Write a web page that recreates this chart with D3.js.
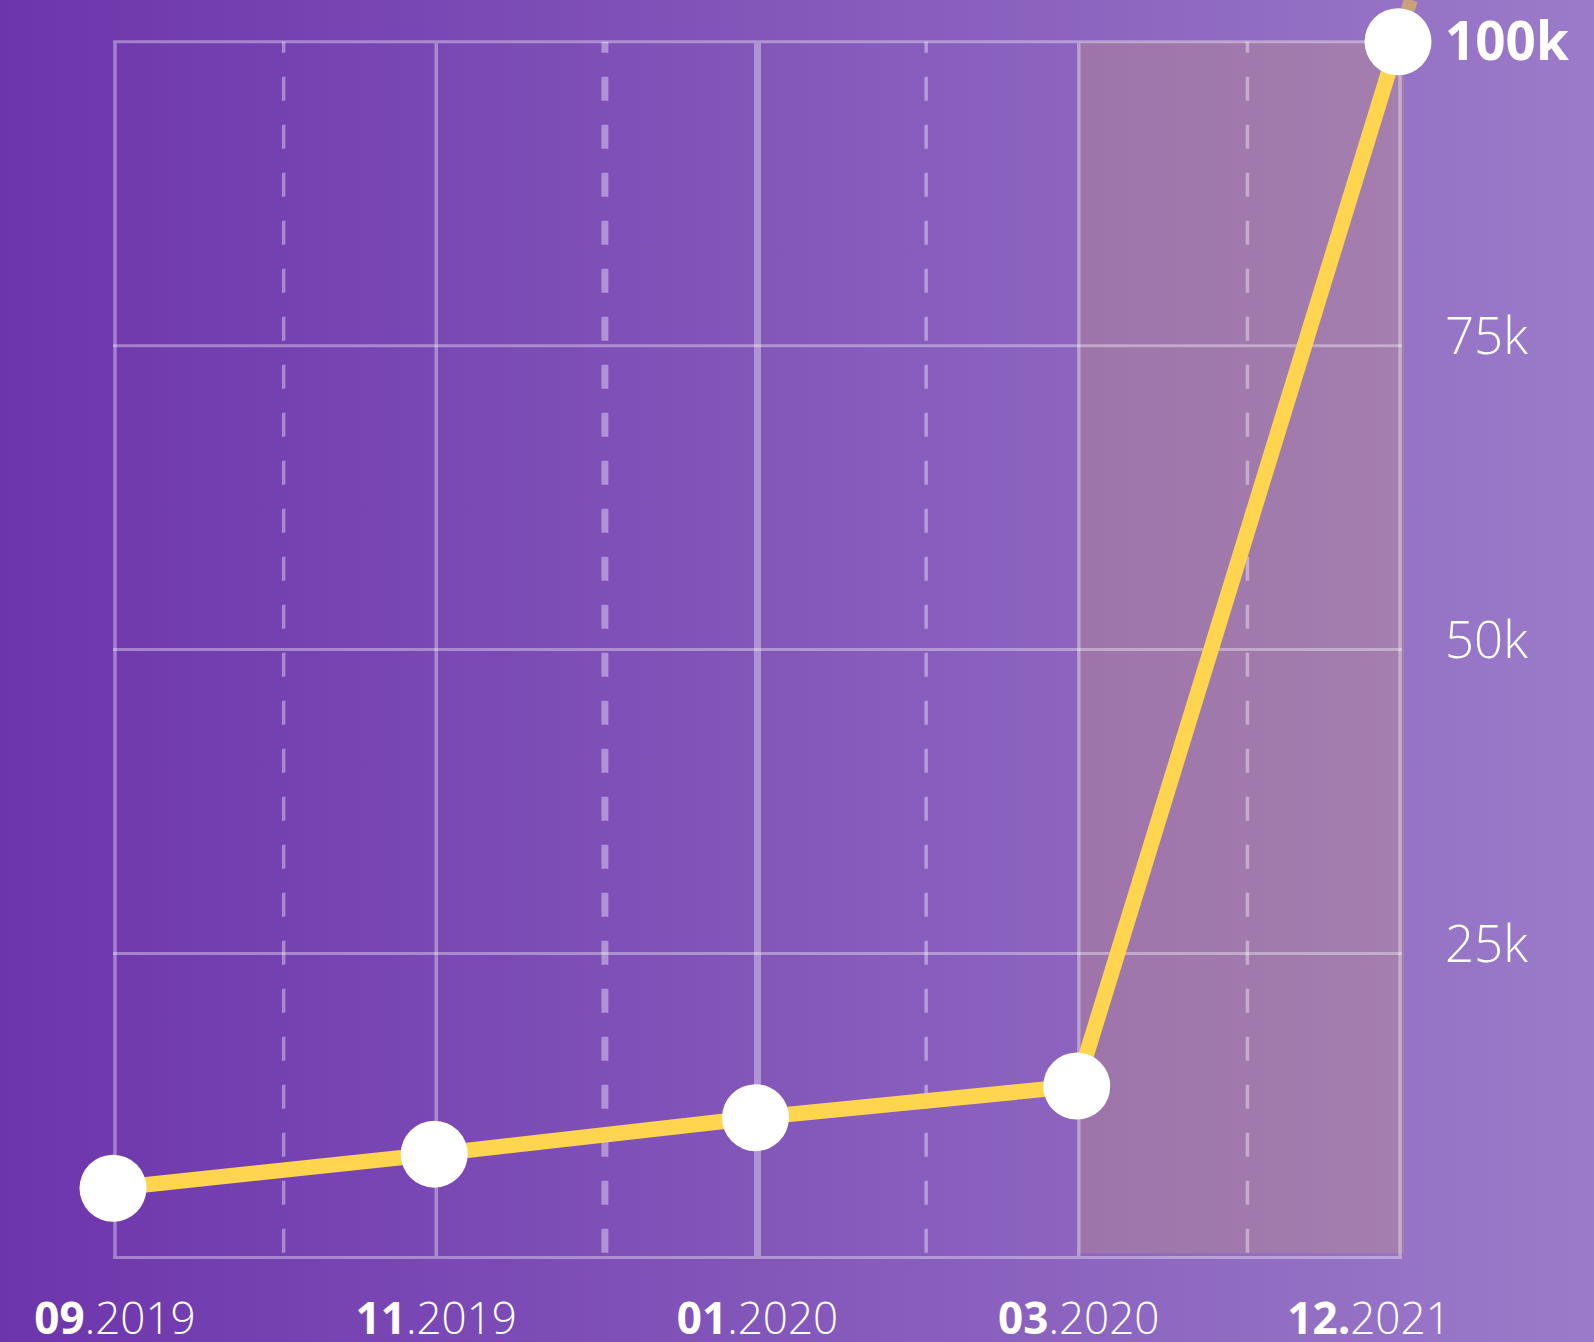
<!DOCTYPE html>
<html>
<head>
<meta charset="utf-8">
<script src="https://cdn.jsdelivr.net/npm/d3@7"></script>
<style>
  html, body { margin: 0; padding: 0; background: #6d35ac; }
  svg { display: block; }
  text { font-family: "Open Sans", "Noto Sans", sans-serif; fill: #fff; }
</style>
</head>
<body>
<div id="chart"></div>
<script>
// data
var categories = ["09.2019", "11.2019", "01.2020", "03.2020", "12.2021"];
var users = [5700, 8500, 11500, 14100, 100000];
var yTicks = [0, 25000, 50000, 75000, 100000];
var yTickLabels = ["", "25k", "50k", "75k", "100k"];
var shadeFrom = 3, shadeTo = 4;   // forecast period (category index)

var width = 1594, height = 1342;
var plot = {left: 115, right: 1400, top: 41.7, bottom: 1257.5};
// some grid lines come out heavier in the original image
var solidW = [3.5, 3.5, 7, 3.5, 3.5];
var dashW = [3.5, 7, 3.5, 3.5];

var svg = d3.select("#chart")
  .append("svg")
    .attr("width", width)
    .attr("height", height);

// background gradient
var grad = svg.append("defs").append("linearGradient")
    .attr("id", "bg")
    .attr("x1", "0%").attr("x2", "100%").attr("y1", "0%").attr("y2", "0%");
grad.append("stop").attr("offset", "0%").attr("stop-color", "#6d35ac");
grad.append("stop").attr("offset", "100%").attr("stop-color", "#9b7bc9");

svg.append("rect")
  .attr("width", width)
  .attr("height", height)
  .attr("fill", "url(#bg)");

var x = d3.scaleLinear()
  .domain([0, categories.length - 1])
  .range([plot.left, plot.right]);

var y = d3.scaleLinear()
  .domain([0, 100000])
  .range([plot.bottom, plot.top]);

// shaded forecast area
svg.append("rect")
  .attr("x", x(shadeFrom))
  .attr("y", y(100000))
  .attr("width", x(shadeTo) - x(shadeFrom) + 4)
  .attr("height", y(0) - y(100000) - 4)
  .attr("fill", "rgb(196,152,128)")
  .attr("fill-opacity", 0.32);

// horizontal grid
svg.selectAll(".hgrid")
  .data(yTicks)
  .enter()
  .append("line")
    .attr("x1", x(0) - 2)
    .attr("x2", x(categories.length - 1) + 2)
    .attr("y1", function(d) { return y(d); })
    .attr("y2", function(d) { return y(d); })
    .attr("stroke", "#fff")
    .attr("stroke-opacity", 0.36)
    .attr("stroke-width", 3);

// vertical solid grid
svg.selectAll(".vgrid")
  .data(categories)
  .enter()
  .append("line")
    .attr("x1", function(d, i) { return x(i); })
    .attr("x2", function(d, i) { return x(i); })
    .attr("y1", y(100000) + 1.5)
    .attr("y2", y(0) - 1.5)
    .attr("stroke", "#fff")
    .attr("stroke-opacity", 0.36)
    .attr("stroke-width", function(d, i) { return solidW[i]; });

// vertical dashed grid (between categories)
svg.selectAll(".dgrid")
  .data(categories.slice(0, -1))
  .enter()
  .append("line")
    .attr("x1", function(d, i) { return x(i + 0.525); })
    .attr("x2", function(d, i) { return x(i + 0.525); })
    .attr("y1", y(100000))
    .attr("y2", y(0) - 1.5)
    .attr("stroke", "#fff")
    .attr("stroke-opacity", 0.38)
    .attr("stroke-width", function(d, i) { return dashW[i]; })
    .attr("stroke-dasharray", "24,24")
    .attr("stroke-dashoffset", 13);

// y labels
svg.selectAll(".ylab")
  .data(yTicks)
  .enter()
  .append("text")
    .attr("x", plot.right + 45)
    .attr("y", function(d) { return y(d) + (d === 100000 ? 18 : 8); })
    .attr("font-size", function(d) { return d === 100000 ? 53 : 51; })
    .attr("font-weight", function(d) { return d === 100000 ? 700 : 300; })
    .text(function(d, i) { return yTickLabels[i]; });

// x labels
var xl = svg.selectAll(".xlab")
  .data(categories)
  .enter()
  .append("text")
    .attr("x", function(d, i) { return x(i) + (i === categories.length - 1 ? -31 : 0); })
    .attr("y", 1334)
    .attr("font-size", 44)
    .attr("text-anchor", "middle");
xl.append("tspan")
  .attr("font-weight", 700)
  .text(function(d, i) {
    var p = d.split(".");
    return i === categories.length - 1 ? p[0] + "." : p[0];
  });
xl.append("tspan")
  .attr("font-weight", 300)
  .text(function(d, i) {
    var p = d.split(".");
    return i === categories.length - 1 ? p[1] : "." + p[1];
  });

// line + points
var g = svg.append("g").attr("transform", "translate(-2,0)");

var n = users.length;
var ext = users[n - 1] + (users[n - 1] - users[n - 2]) * 0.04;
g.append("line")
  .attr("x1", x(n - 1))
  .attr("y1", y(users[n - 1]))
  .attr("x2", x(n - 1 + 0.04))
  .attr("y2", y(ext))
  .attr("stroke", "#c9a27c")
  .attr("stroke-width", 14);

var line = d3.line()
  .x(function(d, i) { return x(i); })
  .y(function(d) { return y(d); });

g.append("path")
  .datum(users)
  .attr("d", line)
  .attr("fill", "none")
  .attr("stroke", "#ffd54f")
  .attr("stroke-width", 15.5)
  .attr("stroke-linejoin", "round");

g.selectAll(".dot")
  .data(users)
  .enter()
  .append("circle")
    .attr("cx", function(d, i) { return x(i); })
    .attr("cy", function(d) { return y(d); })
    .attr("r", 33.5)
    .attr("fill", "#fff");
</script>
</body>
</html>
